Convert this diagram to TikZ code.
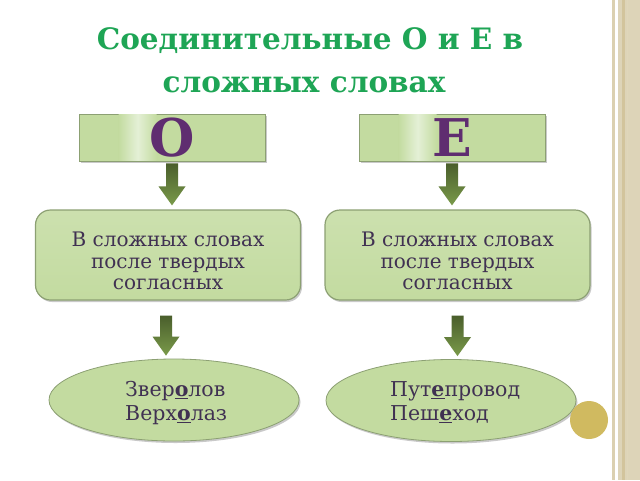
\documentclass[tikz,border=0pt]{standalone}
\usepackage{fontspec}
\setmainfont{DejaVu Serif}
\usetikzlibrary{calc,shadows,shapes.geometric}
\definecolor{titlegreen}{RGB}{30,165,85}
\definecolor{boxgreen}{RGB}{195,219,160}
\definecolor{boxlight}{RGB}{228,240,214}
\definecolor{boxedge}{RGB}{140,160,115}
\definecolor{txt}{RGB}{64,49,82}
\definecolor{letter}{RGB}{95,45,112}
\definecolor{arrdark}{RGB}{74,94,44}
\definecolor{arrlight}{RGB}{122,154,74}
\definecolor{gold}{RGB}{208,186,96}
\definecolor{beige}{RGB}{221,212,184}
\definecolor{beigedark}{RGB}{210,196,156}
\tikzset{
  titlestyle/.style={text=titlegreen, font=\fontsize{29.5}{43}\selectfont\bfseries, inner sep=0pt, anchor=base},
  letterbox/.style={draw=boxedge, line width=0.8pt, fill=boxgreen, minimum width=186pt, minimum height=47pt, inner sep=0pt,
     drop shadow={opacity=0.35, shadow xshift=1.5pt, shadow yshift=-1.5pt, fill=black!60}},
  letterstyle/.style={text=letter, font=\fontsize{52}{52}\selectfont\bfseries},
  shimmer/.style={left color=boxgreen, right color=boxgreen, middle color=boxlight},
  rulebox/.style={draw=boxedge, line width=1.2pt, rounded corners=15pt, top color=boxgreen!85!white, bottom color=boxgreen,
     minimum width=265pt, minimum height=90pt,
     drop shadow={opacity=0.35, shadow xshift=1.5pt, shadow yshift=-2pt, fill=black!60}},
  ruletext/.style={text=txt, align=center, inner sep=0pt, font=\fontsize{20}{21.5}\selectfont},
  wordell/.style={ellipse, draw=boxedge, line width=0.8pt, fill=boxgreen, minimum width=250pt, minimum height=82pt,
     inner sep=0pt,
     drop shadow={opacity=0.35, shadow xshift=1.5pt, shadow yshift=-2pt, fill=black!60}},
  wordtext/.style={text=txt, align=left, inner sep=0pt, anchor=north west, font=\fontsize{20.5}{24.5}\selectfont},
  arrowshade/.style={top color=arrdark, bottom color=arrlight},
}
\newcommand\blkarrow[2]{%
  \shade[arrowshade] ($(#1)+(-6,0)$) -- ($(#1)+(6,0)$) -- ($(#2)+(6,-19)$) -- ($(#2)+(13.5,-19)$)
   -- (#2) -- ($(#2)+(-13.5,-19)$) -- ($(#2)+(-6,-19)$) -- cycle;}
\newcommand\ul[1]{\underline{\textbf{#1}}}
\begin{document}
\begin{tikzpicture}[x=1pt,y=-1pt]
\useasboundingbox (0,0) rectangle (640,480);
\fill[white] (0,0) rectangle (640,480);
% right decorative band
\fill[beigedark!80] (612,0) rectangle (615,480);
\fill[beige] (618,0) rectangle (640,480);
\fill[beigedark] (622,0) rectangle (624.5,480);
\fill[beigedark!70] (627,0) rectangle (628,480);
% title
\node[titlestyle] (title1) at (310,49) {Соединительные О и Е в};
\node[titlestyle] (title2) at (304,92) {сложных словах};
% letter boxes
\node[letterbox] (O) at (172,137.5) {};
\node[letterbox] (E) at (452,137.5) {};
\shade[shimmer] ($(O.south west)+(40,-1)$) rectangle ($(O.north west)+(78,1)$);
\shade[shimmer] ($(E.south west)+(40,-1)$) rectangle ($(E.north west)+(78,1)$);
\node[letterstyle] (Ot) at (O.center) {О};
\node[letterstyle] (Et) at (E.center) {Е};
% rule boxes
\node[rulebox] (B1) at (168,255) {};
\node[rulebox] (B2) at (457.5,255) {};
\node[ruletext] (B1t) at ($(B1.center)+(0,6)$) {В сложных словах\\после твердых\\согласных};
\node[ruletext] (B2t) at ($(B2.center)+(0,6)$) {В сложных словах\\после твердых\\согласных};
% ellipses
\node[wordell] (W1) at (174,400) {};
\node[wordell] (W2) at (451,400.5) {};
\node[wordtext] (W1t) at (125,381) {Звер\ul{о}лов\\Верх\ul{о}лаз};
\node[wordtext] (W2t) at (390,381) {Пут\ul{е}провод\\Пеш\ul{е}ход};
% gold circle
\fill[gold] (589,420) circle (19);
% arrows
\coordinate (a1s) at ($(O.south)+(0,2)$);
\coordinate (a1e) at ($(B1.north)+(0,-4)$);
\coordinate (a2s) at ($(E.south)+(0,2)$);
\coordinate (a2e) at ($(B2.north)+(0,-4)$);
\coordinate (a3s) at ($(B1.south)+(-2,15)$);
\coordinate (a3e) at ($(W1.north)+(0,-3)$);
\coordinate (a4s) at ($(B2.south)+(0,15)$);
\coordinate (a4e) at ($(W2.north)+(0,-3)$);
\blkarrow{a1s}{a1s |- a1e}
\blkarrow{a2s}{a2s |- a2e}
\blkarrow{a3s}{a3s |- a3e}
\blkarrow{a4s}{a4s |- a4e}
\end{tikzpicture}
\end{document}
